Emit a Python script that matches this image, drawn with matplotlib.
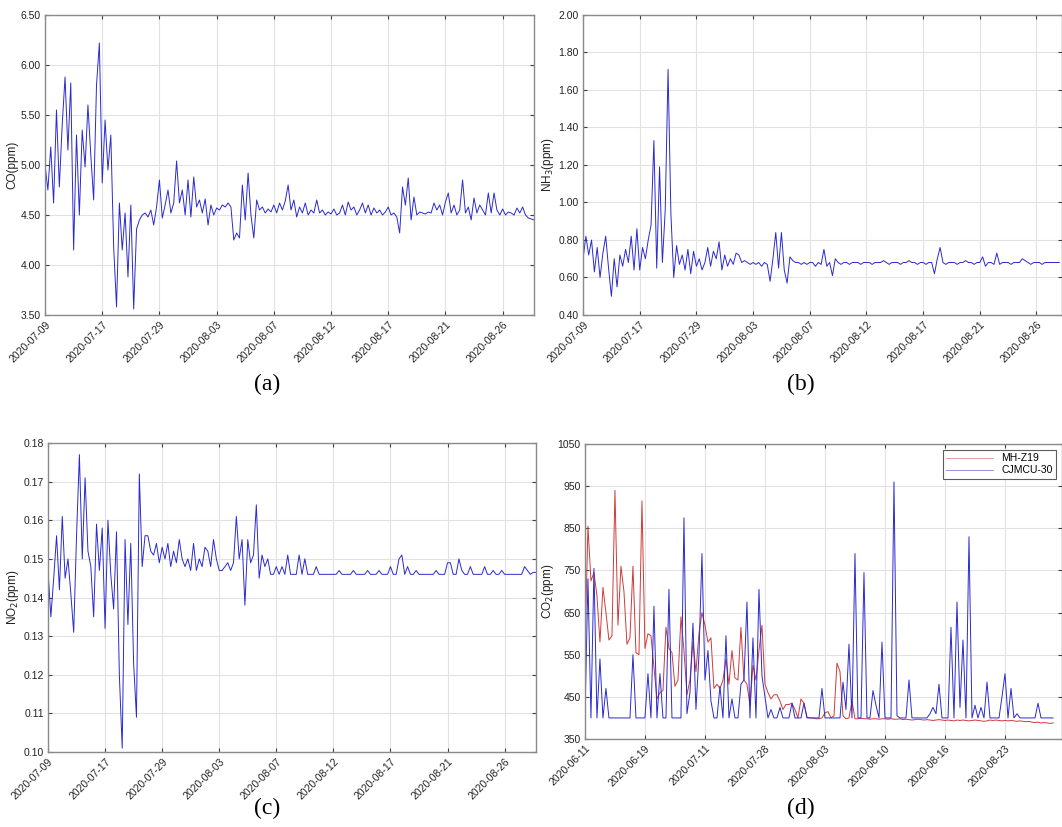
import matplotlib.pyplot as plt

plt.rcParams['font.family'] = ['Liberation Sans', 'DejaVu Sans']

# (a) CO, one value every 1/20 of a tick step
co = [5.00, 4.75, 5.18, 4.62, 5.55, 4.78, 5.40, 5.88, 5.15, 5.82,
      4.15, 5.30, 4.50, 5.35, 4.98, 5.60, 5.10, 4.65, 5.80, 6.22,
      4.82, 5.45, 4.95, 5.30, 4.18, 3.58, 4.62, 4.15, 4.52, 3.88,
      4.60, 3.56, 4.36, 4.45, 4.50, 4.52, 4.48, 4.55, 4.40, 4.58,
      4.85, 4.47, 4.60, 4.75, 4.52, 4.62, 5.04, 4.62, 4.75, 4.50,
      4.85, 4.48, 4.88, 4.58, 4.65, 4.52, 4.66, 4.40, 4.60, 4.50,
      4.57, 4.55, 4.60, 4.58, 4.62, 4.58, 4.25, 4.32, 4.27, 4.80,
      4.45, 4.92, 4.50, 4.27, 4.65, 4.55, 4.58, 4.52, 4.56, 4.53,
      4.60, 4.52, 4.62, 4.55, 4.64, 4.80, 4.55, 4.65, 4.48, 4.58,
      4.52, 4.62, 4.50, 4.55, 4.52, 4.65, 4.52, 4.55, 4.50, 4.53,
      4.51, 4.56, 4.50, 4.52, 4.60, 4.50, 4.63, 4.55, 4.58, 4.50,
      4.55, 4.62, 4.52, 4.60, 4.50, 4.57, 4.52, 4.55, 4.50, 4.53,
      4.58, 4.50, 4.52, 4.48, 4.32, 4.78, 4.60, 4.87, 4.45, 4.68,
      4.50, 4.53, 4.52, 4.51, 4.53, 4.52, 4.62, 4.55, 4.60, 4.50,
      4.63, 4.72, 4.52, 4.60, 4.50, 4.55, 4.85, 4.52, 4.58, 4.45,
      4.67, 4.52, 4.60, 4.55, 4.50, 4.72, 4.52, 4.72, 4.55, 4.50,
      4.56, 4.50, 4.53, 4.52, 4.50, 4.57, 4.52, 4.58, 4.50, 4.47,
      4.46, 4.45]

# (b) NH3
nh3 = [0.70, 0.82, 0.72, 0.80, 0.63, 0.76, 0.60, 0.73, 0.82, 0.65,
       0.50, 0.70, 0.55, 0.72, 0.66, 0.75, 0.68, 0.82, 0.64, 0.86,
       0.64, 0.76, 0.70, 0.80, 0.88, 1.33, 0.65, 1.19, 0.68, 0.96,
       1.71, 0.94, 0.60, 0.77, 0.67, 0.72, 0.64, 0.75, 0.62, 0.74,
       0.66, 0.70, 0.64, 0.68, 0.76, 0.66, 0.74, 0.70, 0.79, 0.64,
       0.72, 0.66, 0.70, 0.67, 0.73, 0.72, 0.68, 0.69, 0.68, 0.67,
       0.68, 0.67, 0.68, 0.66, 0.68, 0.67, 0.58, 0.70, 0.84, 0.65,
       0.84, 0.64, 0.57, 0.71, 0.69, 0.68, 0.68, 0.67, 0.68, 0.67,
       0.68, 0.68, 0.66, 0.68, 0.67, 0.75, 0.66, 0.68, 0.61, 0.70,
       0.68, 0.67, 0.68, 0.68, 0.67, 0.68, 0.68, 0.68, 0.67, 0.68,
       0.68, 0.68, 0.67, 0.68, 0.68, 0.68, 0.69, 0.68, 0.67, 0.68,
       0.68, 0.68, 0.67, 0.68, 0.68, 0.69, 0.68, 0.68, 0.67, 0.68,
       0.68, 0.67, 0.68, 0.68, 0.62, 0.70, 0.76, 0.68, 0.67, 0.68,
       0.68, 0.68, 0.67, 0.68, 0.68, 0.69, 0.68, 0.68, 0.67, 0.68,
       0.68, 0.71, 0.66, 0.68, 0.68, 0.67, 0.73, 0.67, 0.68, 0.68,
       0.68, 0.67, 0.68, 0.68, 0.68, 0.70, 0.69, 0.68, 0.67, 0.68,
       0.68, 0.68, 0.67, 0.68, 0.68, 0.68, 0.68, 0.68, 0.68]

# (c) NO2
no2 = [0.147, 0.135, 0.145, 0.156, 0.142, 0.161, 0.145, 0.150, 0.141, 0.131,
       0.156, 0.177, 0.150, 0.171, 0.152, 0.148, 0.135, 0.159, 0.147, 0.158,
       0.132, 0.160, 0.146, 0.137, 0.157, 0.120, 0.101, 0.155, 0.133, 0.154,
       0.123, 0.109, 0.172, 0.148, 0.156, 0.156, 0.152, 0.151, 0.154, 0.149,
       0.153, 0.150, 0.154, 0.148, 0.152, 0.149, 0.155, 0.150, 0.148, 0.150,
       0.147, 0.154, 0.147, 0.150, 0.148, 0.153, 0.152, 0.148, 0.155, 0.150,
       0.147, 0.147, 0.148, 0.149, 0.147, 0.149, 0.161, 0.150, 0.155, 0.138,
       0.155, 0.149, 0.151, 0.164, 0.145, 0.151, 0.148, 0.150, 0.146, 0.146,
       0.148, 0.146, 0.148, 0.146, 0.151, 0.146, 0.146, 0.146, 0.151, 0.146,
       0.150, 0.146, 0.146, 0.146, 0.148, 0.146, 0.146, 0.146, 0.146, 0.146,
       0.146, 0.146, 0.147, 0.146, 0.146, 0.146, 0.146, 0.147, 0.146, 0.146,
       0.146, 0.146, 0.147, 0.146, 0.146, 0.146, 0.147, 0.146, 0.146, 0.146,
       0.148, 0.146, 0.146, 0.150, 0.151, 0.146, 0.148, 0.146, 0.146, 0.147,
       0.146, 0.146, 0.146, 0.146, 0.146, 0.146, 0.147, 0.146, 0.146, 0.146,
       0.149, 0.149, 0.146, 0.146, 0.150, 0.147, 0.146, 0.146, 0.148, 0.146,
       0.146, 0.146, 0.146, 0.148, 0.146, 0.146, 0.147, 0.146, 0.146, 0.147,
       0.146, 0.146, 0.146, 0.146, 0.146, 0.146, 0.146, 0.148, 0.147, 0.146,
       0.1465, 0.1465]

# (d) CO2, two sensors
co2_mhz19 = [560, 855, 725, 745, 690, 580, 710, 650, 585, 595,
             940, 620, 760, 700, 575, 590, 760, 555, 550, 915,
             565, 600, 595, 520, 445, 460, 465, 615, 565, 555,
             475, 490, 640, 560, 455, 490, 580, 510, 600, 650,
             620, 580, 590, 470, 480, 470, 490, 540, 480, 560,
             495, 490, 615, 490, 480, 430, 525, 490, 560, 620,
             480, 460, 445, 455, 455, 440, 420, 432, 432, 435,
             420, 400, 445, 435, 402, 400, 400, 398, 398, 400,
             412, 415, 400, 405, 530, 510, 405, 398, 400, 440,
             398, 398, 399, 398, 398, 397, 398, 398, 397, 398,
             398, 397, 398, 397, 397, 398, 396, 397, 396, 395,
             396, 397, 396, 395, 396, 395, 394, 395, 396, 395,
             394, 395, 394, 393, 395, 394, 395, 394, 393, 394,
             395, 394, 393, 392, 393, 395, 394, 395, 394, 393,
             394, 393, 394, 393, 392, 393, 392, 391, 392, 390,
             389, 390, 388, 389, 388, 387, 388]
co2_cjmcu = [400, 730, 400, 755, 400, 540, 400, 470, 400, 400,
             400, 400, 400, 400, 400, 400, 550, 400, 400, 400,
             400, 505, 400, 665, 400, 505, 400, 400, 705, 400,
             400, 400, 400, 875, 410, 460, 625, 420, 550, 790,
             490, 560, 440, 400, 400, 475, 400, 595, 400, 445,
             400, 400, 480, 490, 675, 400, 590, 400, 705, 500,
             450, 400, 420, 400, 400, 425, 400, 400, 400, 435,
             400, 400, 400, 435, 400, 400, 400, 400, 400, 470,
             400, 400, 400, 400, 400, 400, 485, 420, 575, 400,
             790, 400, 400, 745, 400, 400, 465, 430, 400, 580,
             400, 400, 400, 960, 405, 400, 400, 400, 490, 400,
             400, 400, 400, 400, 400, 410, 425, 410, 480, 400,
             400, 400, 615, 400, 675, 425, 585, 400, 830, 400,
             430, 400, 425, 400, 485, 400, 400, 400, 400, 450,
             505, 400, 470, 400, 410, 400, 400, 400, 400, 400,
             400, 435, 400, 400, 400, 400, 400]

dates_abc = ['2020-07-09', '2020-07-17', '2020-07-29', '2020-08-03', '2020-08-07',
             '2020-08-12', '2020-08-17', '2020-08-21', '2020-08-26']
dates_d = ['2020-06-11', '2020-06-19', '2020-07-11', '2020-07-28', '2020-08-03',
           '2020-08-10', '2020-08-16', '2020-08-23']

blue = '#2a2ad0'
red = '#d03a3a'


def style_axes(ax, labels, xmax, ylim, yticks, yfmt, ylabel):
    ax.set_xlim(0, xmax)
    ax.set_ylim(*ylim)
    ax.set_xticks([20 * k for k in range(len(labels))])
    ax.set_xticklabels(labels, rotation=45, ha='right', rotation_mode='anchor')
    ax.set_yticks(yticks)
    ax.set_yticklabels([yfmt.format(v) for v in yticks])
    ax.grid(True, color='#e2e2e2', linewidth=0.8)
    ax.set_axisbelow(True)
    ax.tick_params(direction='in', length=3, width=0.8, colors='#404040',
                   labelsize=7.5, labelcolor='#222222', top=True, right=True, pad=3)
    for s in ax.spines.values():
        s.set_color('#8a8a8a')
        s.set_linewidth(1.0)
    ax.set_ylabel(ylabel, fontsize=8.5, color='#222222', labelpad=1.5)


fig = plt.figure(figsize=(10.62, 8.27), dpi=100)

ax_a = fig.add_axes([0.0424, 0.6191, 0.4605, 0.3628])
ax_a.plot(range(len(co)), co, color=blue, linewidth=0.7)
style_axes(ax_a, dates_abc, 171, (3.5, 6.5), [3.5 + 0.5 * k for k in range(7)], '{:.2f}', 'CO(ppm)')

ax_b = fig.add_axes([0.549, 0.6191, 0.451, 0.3628])
ax_b.plot(range(len(nh3)), nh3, color=blue, linewidth=0.7)
style_axes(ax_b, dates_abc, 169, (0.4, 2.0), [0.4 + 0.2 * k for k in range(9)], '{:.2f}', 'NH$_3$(ppm)')

ax_c = fig.add_axes([0.0452, 0.0907, 0.4595, 0.3736])
ax_c.plot(range(len(no2)), no2, color=blue, linewidth=0.7)
style_axes(ax_c, dates_abc, 171, (0.10, 0.18), [0.10 + 0.01 * k for k in range(9)], '{:.2f}', 'NO$_2$(ppm)')

ax_d = fig.add_axes([0.5508, 0.1064, 0.4492, 0.3567])
ax_d.plot(range(len(co2_mhz19)), co2_mhz19, color=red, linewidth=0.7, label='MH-Z19')
ax_d.plot(range(len(co2_cjmcu)), co2_cjmcu, color=blue, linewidth=0.7, label='CJMCU-30')
style_axes(ax_d, dates_d, 159, (350, 1050), [350 + 100 * k for k in range(8)], '{:.0f}', 'CO$_2$(ppm)')
leg = ax_d.legend(loc='upper right', fontsize=7.5, frameon=True, fancybox=False,
                  borderaxespad=0.6, handlelength=4.5, labelspacing=0.2,
                  borderpad=0.3)
leg.get_frame().set_edgecolor('#333333')
leg.get_frame().set_linewidth(0.8)
for line in leg.get_lines():
    line.set_alpha(0.5)

for x, y, s in [(0.252, 0.535, '(a)'), (0.754, 0.535, '(b)'),
                (0.252, 0.022, '(c)'), (0.754, 0.022, '(d)')]:
    fig.text(x, y, s, family='Liberation Serif', fontsize=17, ha='center', va='center')

fig.savefig('out.png', dpi=100)
